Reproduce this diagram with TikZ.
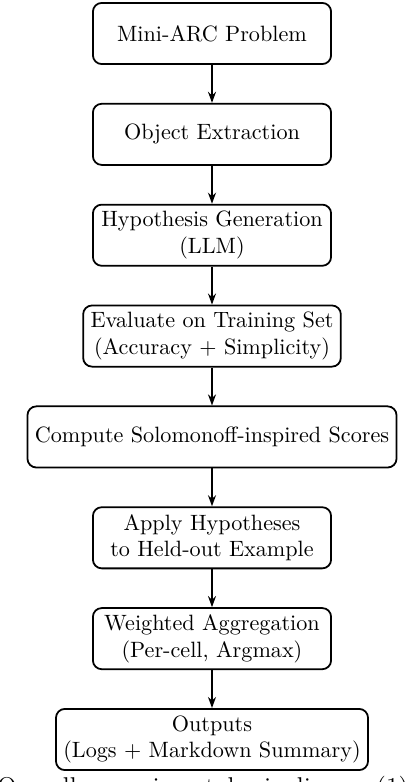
\documentclass[tikz,border=0pt]{standalone}
\usetikzlibrary{arrows.meta}
\begin{document}
\begin{tikzpicture}[x=1pt,y=1pt,
  box/.style={draw, thick, rounded corners=4pt, align=center,
    minimum width=107.5pt, minimum height=27.6pt, inner xsep=3.33pt, inner ysep=1.5pt},
  arr/.style={thick, -{Stealth[length=5pt,width=3.6pt]}},
  captext/.style={inner sep=0pt, anchor=base west, font=\fontsize{11.6}{14}\selectfont}]
\useasboundingbox (0,0) rectangle (185,-352.9);
\clip (0,0) rectangle (185,-352.9);
\node[box] (n1) at (95.67,-15.12) {Mini-ARC Problem};
\node[box] (n2) at (95.67,-60.63) {Object Extraction};
\node[box] (n3) at (95.67,-106.15) {Hypothesis Generation\\(LLM)};
\node[box] (n4) at (95.67,-151.66) {Evaluate on Training Set\\(Accuracy + Simplicity)};
\node[box] (n5) at (95.67,-197.18) {Compute Solomonoff-inspired Scores};
\node[box] (n6) at (95.67,-242.69) {Apply Hypotheses\\to Held-out Example};
\node[box] (n7) at (95.67,-288.20) {Weighted Aggregation\\(Per-cell, Argmax)};
\node[box] (n8) at (95.67,-333.72) {Outputs\\(Logs + Markdown Summary)};
\draw[arr] (n1) -- (n2);
\draw[arr] (n2) -- (n3);
\draw[arr] (n3) -- (n4);
\draw[arr] (n4) -- (n5);
\draw[arr] (n5) -- (n6);
\draw[arr] (n6) -- (n7);
\draw[arr] (n7) -- (n8);
\node[captext] (caption) at (-1.5,-358.8) {\makebox[185.6pt][s]{Overall experimental pipeline. (1)}};
\end{tikzpicture}
\end{document}
